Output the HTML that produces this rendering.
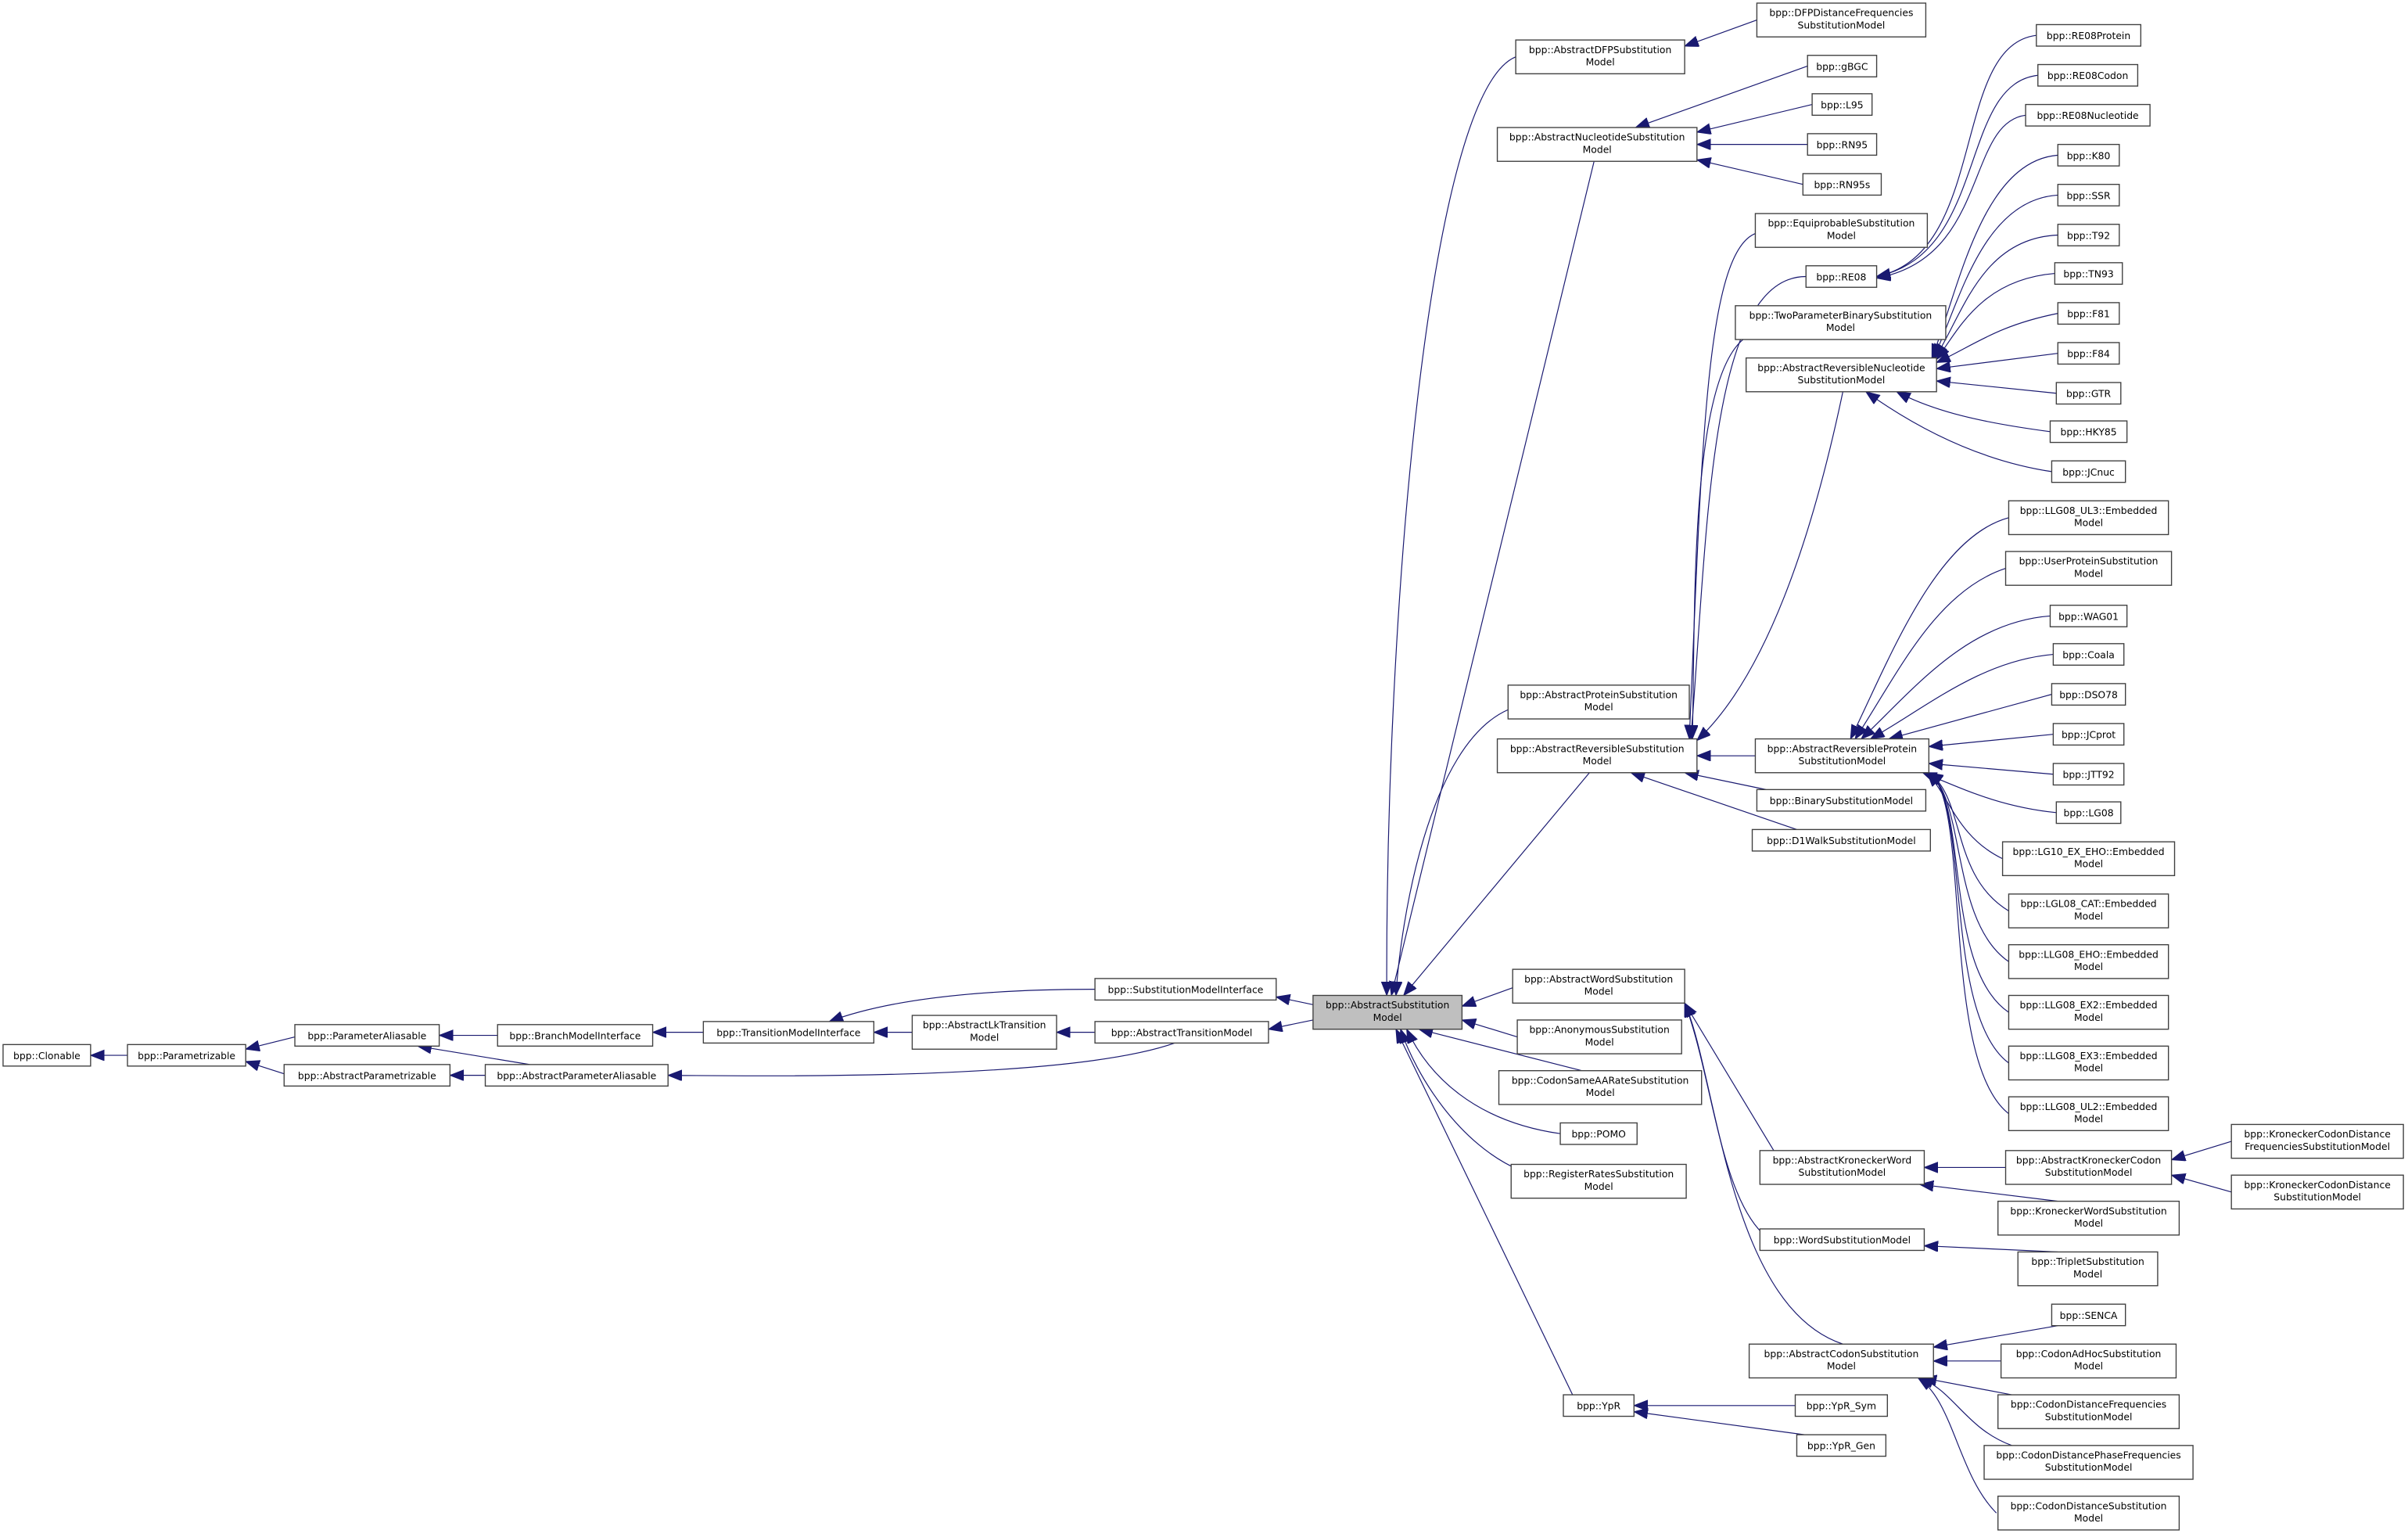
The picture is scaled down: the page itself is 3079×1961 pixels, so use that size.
<!DOCTYPE html>
<html><head><meta charset="utf-8"><style>
html,body{margin:0;padding:0;background:#fff;}
svg{display:block}
text{font-family:"DejaVu Sans","Liberation Sans",sans-serif;font-size:6.3px;fill:#000;text-anchor:middle}
rect{fill:#fff;stroke:#404040;stroke-width:0.7}
path{fill:none;stroke:#191970;stroke-width:0.6}
</style></head><body>
<svg width="3079" height="1961" viewBox="0 0 1568 998.6" xmlns="http://www.w3.org/2000/svg">
<defs><marker id="a" markerUnits="userSpaceOnUse" markerWidth="10" markerHeight="8" refX="9" refY="3.5" orient="auto"><path d="M0,0 L9,3.5 L0,7 Z" style="fill:#191970;stroke:#191970;stroke-width:0.5"/></marker></defs>
<g marker-end="url(#a)">
<path d="M83,687 L59,687"/>
<path d="M192,675 L160,683"/>
<path d="M185,699 L160,691"/>
<path d="M324,674 L286,674"/>
<path d="M345,693 L272,681"/>
<path d="M316,700 L293,700"/>
<path d="M458,672 L425,672"/>
<path d="M713,644 C640,644 580,650 540,665"/>
<path d="M594,672 L569,672"/>
<path d="M713,672 L688,672"/>
<path d="M765,679 C700,702 520,701 435,700"/>
<path d="M855,654 L831,649"/>
<path d="M855,664 L826,670"/>
<path d="M987,37 C930,60 902,400 903,648"/>
<path d="M1038,105 L906,648"/>
<path d="M982,462 C930,485 912,600 909,648"/>
<path d="M1035,503 L914,648"/>
<path d="M985,643 L952,655"/>
<path d="M988,675 L952,664"/>
<path d="M1030,697 L924,670"/>
<path d="M1016,738 C960,730 930,700 916,670"/>
<path d="M990,762 C950,745 922,700 912,670"/>
<path d="M1024,908 L909,670"/>
<path d="M1144,13 L1097,30"/>
<path d="M1177,43 L1065,83"/>
<path d="M1180,68 L1105,86"/>
<path d="M1177,94 L1105,94"/>
<path d="M1174,120 L1105,104"/>
<path d="M1143,152 C1110,165 1108,300 1100,481"/>
<path d="M1176,180 C1112,180 1112,350 1101,481"/>
<path d="M1135,221 C1100,250 1104,400 1102,481"/>
<path d="M1200,255 C1180,350 1150,440 1105,482"/>
<path d="M1143,492 L1105,492"/>
<path d="M1150,514 L1097,503"/>
<path d="M1170,540 L1062,503"/>
<path d="M1326,23 C1270,30 1295,165 1222,180"/>
<path d="M1327,49 C1275,55 1295,165 1222,180"/>
<path d="M1319,75 C1280,80 1295,168 1222,181"/>
<path d="M1340,101 C1290,105 1275,190 1258,233"/>
<path d="M1340,127 C1290,130 1275,200 1259,233"/>
<path d="M1340,153 C1290,155 1278,205 1260,233"/>
<path d="M1338,178 C1290,182 1275,215 1261,234"/>
<path d="M1340,204 C1300,212 1285,225 1261,236"/>
<path d="M1340,230 L1261,240"/>
<path d="M1339,256 L1261,248"/>
<path d="M1335,281 C1290,275 1260,268 1235,255"/>
<path d="M1336,307 C1290,300 1250,280 1215,255"/>
<path d="M1308,337 C1260,350 1230,430 1205,481"/>
<path d="M1306,370 C1260,385 1235,440 1208,481"/>
<path d="M1335,401 C1280,405 1245,450 1212,481"/>
<path d="M1337,426 C1290,430 1255,460 1218,481"/>
<path d="M1336,452 L1230,481"/>
<path d="M1337,478 L1256,486"/>
<path d="M1337,504 L1256,497"/>
<path d="M1339,529 C1300,525 1275,512 1252,503"/>
<path d="M1304,559 C1275,545 1270,520 1255,503"/>
<path d="M1308,593 C1270,570 1280,520 1256,503"/>
<path d="M1308,626 C1270,600 1280,520 1256,503"/>
<path d="M1308,659 C1265,630 1282,520 1256,503"/>
<path d="M1308,692 C1265,660 1283,520 1256,503"/>
<path d="M1308,725 C1263,690 1284,520 1256,503"/>
<path d="M1155,749 L1097,653"/>
<path d="M1150,805 C1120,780 1115,700 1097,653"/>
<path d="M1200,875 C1125,850 1118,700 1097,653"/>
<path d="M1306,760 L1253,760"/>
<path d="M1340,782 L1250,771"/>
<path d="M1453,743 L1414,755"/>
<path d="M1453,776 L1414,765"/>
<path d="M1340,815 L1253,811"/>
<path d="M1340,863 L1259,877"/>
<path d="M1303,886 L1259,886"/>
<path d="M1310,908 L1252,897"/>
<path d="M1310,941 C1280,930 1272,905 1250,897"/>
<path d="M1300,985 C1275,960 1272,912 1249,897"/>
<path d="M1169,915 L1064,915"/>
<path d="M1175,934 L1064,919"/>
</g>
<g>
<rect x="2" y="680" width="57" height="14"/><text x="30.5" y="689.5">bpp::Clonable</text>
<rect x="83" y="680" width="77" height="14"/><text x="121.5" y="689.5">bpp::Parametrizable</text>
<rect x="192" y="667" width="94" height="14"/><text x="239" y="676.5">bpp::ParameterAliasable</text>
<rect x="185" y="693" width="108" height="14"/><text x="239" y="702.5">bpp::AbstractParametrizable</text>
<rect x="324" y="667" width="101" height="14"/><text x="374.5" y="676.5">bpp::BranchModelInterface</text>
<rect x="316" y="693" width="119" height="14"/><text x="375.5" y="702.5">bpp::AbstractParameterAliasable</text>
<rect x="458" y="665" width="111" height="14"/><text x="513.5" y="674.5">bpp::TransitionModelInterface</text>
<rect x="713" y="637" width="118" height="14"/><text x="772" y="646.5">bpp::SubstitutionModelInterface</text>
<rect x="594" y="661" width="94" height="22"/><text x="641" y="669.5">bpp::AbstractLkTransition</text><text x="641" y="677.5">Model</text>
<rect x="713" y="665" width="113" height="14"/><text x="769.5" y="674.5">bpp::AbstractTransitionModel</text>
<rect x="855" y="648" width="97" height="22" style="fill:#bfbfbf"/><text x="903.5" y="656.5">bpp::AbstractSubstitution</text><text x="903.5" y="664.5">Model</text>

<rect x="987" y="26" width="110" height="22"/><text x="1042" y="34.5">bpp::AbstractDFPSubstitution</text><text x="1042" y="42.5">Model</text>
<rect x="975" y="83" width="130" height="22"/><text x="1040" y="91.5">bpp::AbstractNucleotideSubstitution</text><text x="1040" y="99.5">Model</text>
<rect x="982" y="446" width="118" height="22"/><text x="1041" y="454.5">bpp::AbstractProteinSubstitution</text><text x="1041" y="462.5">Model</text>
<rect x="975" y="481" width="130" height="22"/><text x="1040" y="489.5">bpp::AbstractReversibleSubstitution</text><text x="1040" y="497.5">Model</text>
<rect x="985" y="631" width="112" height="22"/><text x="1041" y="639.5">bpp::AbstractWordSubstitution</text><text x="1041" y="647.5">Model</text>
<rect x="988" y="664" width="107" height="22"/><text x="1041.5" y="672.5">bpp::AnonymousSubstitution</text><text x="1041.5" y="680.5">Model</text>
<rect x="976" y="697" width="132" height="22"/><text x="1042" y="705.5">bpp::CodonSameAARateSubstitution</text><text x="1042" y="713.5">Model</text>
<rect x="1016" y="731" width="50" height="14"/><text x="1041" y="740.5">bpp::POMO</text>
<rect x="984" y="758" width="114" height="22"/><text x="1041" y="766.5">bpp::RegisterRatesSubstitution</text><text x="1041" y="774.5">Model</text>
<rect x="1018" y="908" width="46" height="14"/><text x="1041" y="917.5">bpp::YpR</text>

<rect x="1144" y="2" width="110" height="22"/><text x="1199" y="10.5">bpp::DFPDistanceFrequencies</text><text x="1199" y="18.5">SubstitutionModel</text>
<rect x="1177" y="36" width="45" height="14"/><text x="1199.5" y="45.5">bpp::gBGC</text>
<rect x="1180" y="61" width="39" height="14"/><text x="1199.5" y="70.5">bpp::L95</text>
<rect x="1177" y="87" width="45" height="14"/><text x="1199.5" y="96.5">bpp::RN95</text>
<rect x="1174" y="113" width="51" height="14"/><text x="1199.5" y="122.5">bpp::RN95s</text>
<rect x="1143" y="139" width="112" height="22"/><text x="1199" y="147.5">bpp::EquiprobableSubstitution</text><text x="1199" y="155.5">Model</text>
<rect x="1176" y="173" width="46" height="14"/><text x="1199" y="182.5">bpp::RE08</text>
<rect x="1130" y="199" width="137" height="22"/><text x="1198.5" y="207.5">bpp::TwoParameterBinarySubstitution</text><text x="1198.5" y="215.5">Model</text>
<rect x="1137" y="233" width="124" height="22"/><text x="1199" y="241.5">bpp::AbstractReversibleNucleotide</text><text x="1199" y="249.5">SubstitutionModel</text>
<rect x="1143" y="481" width="113" height="22"/><text x="1199.5" y="489.5">bpp::AbstractReversibleProtein</text><text x="1199.5" y="497.5">SubstitutionModel</text>
<rect x="1144" y="514" width="110" height="14"/><text x="1199" y="523.5">bpp::BinarySubstitutionModel</text>
<rect x="1141" y="540" width="116" height="14"/><text x="1199" y="549.5">bpp::D1WalkSubstitutionModel</text>
<rect x="1146" y="749" width="107" height="22"/><text x="1199.5" y="757.5">bpp::AbstractKroneckerWord</text><text x="1199.5" y="765.5">SubstitutionModel</text>
<rect x="1146" y="800" width="107" height="14"/><text x="1199.5" y="809.5">bpp::WordSubstitutionModel</text>
<rect x="1139" y="875" width="120" height="22"/><text x="1199" y="883.5">bpp::AbstractCodonSubstitution</text><text x="1199" y="891.5">Model</text>
<rect x="1169" y="908" width="60" height="14"/><text x="1199" y="917.5">bpp::YpR_Sym</text>
<rect x="1170" y="934" width="58" height="14"/><text x="1199" y="943.5">bpp::YpR_Gen</text>

<rect x="1326" y="16" width="68" height="14"/><text x="1360" y="25.5">bpp::RE08Protein</text>
<rect x="1327" y="42" width="65" height="14"/><text x="1359.5" y="51.5">bpp::RE08Codon</text>
<rect x="1319" y="68" width="81" height="14"/><text x="1359.5" y="77.5">bpp::RE08Nucleotide</text>
<rect x="1340" y="94" width="40" height="14"/><text x="1360" y="103.5">bpp::K80</text>
<rect x="1340" y="120" width="40" height="14"/><text x="1360" y="129.5">bpp::SSR</text>
<rect x="1340" y="146" width="40" height="14"/><text x="1360" y="155.5">bpp::T92</text>
<rect x="1338" y="171" width="44" height="14"/><text x="1360" y="180.5">bpp::TN93</text>
<rect x="1340" y="197" width="40" height="14"/><text x="1360" y="206.5">bpp::F81</text>
<rect x="1340" y="223" width="40" height="14"/><text x="1360" y="232.5">bpp::F84</text>
<rect x="1339" y="249" width="42" height="14"/><text x="1360" y="258.5">bpp::GTR</text>
<rect x="1335" y="274" width="50" height="14"/><text x="1360" y="283.5">bpp::HKY85</text>
<rect x="1336" y="300" width="48" height="14"/><text x="1360" y="309.5">bpp::JCnuc</text>
<rect x="1308" y="326" width="104" height="22"/><text x="1360" y="334.5">bpp::LLG08_UL3::Embedded</text><text x="1360" y="342.5">Model</text>
<rect x="1306" y="359" width="108" height="22"/><text x="1360" y="367.5">bpp::UserProteinSubstitution</text><text x="1360" y="375.5">Model</text>
<rect x="1335" y="394" width="50" height="14"/><text x="1360" y="403.5">bpp::WAG01</text>
<rect x="1337" y="419" width="46" height="14"/><text x="1360" y="428.5">bpp::Coala</text>
<rect x="1336" y="445" width="48" height="14"/><text x="1360" y="454.5">bpp::DSO78</text>
<rect x="1337" y="471" width="46" height="14"/><text x="1360" y="480.5">bpp::JCprot</text>
<rect x="1337" y="497" width="46" height="14"/><text x="1360" y="506.5">bpp::JTT92</text>
<rect x="1339" y="522" width="42" height="14"/><text x="1360" y="531.5">bpp::LG08</text>
<rect x="1304" y="548" width="112" height="22"/><text x="1360" y="556.5">bpp::LG10_EX_EHO::Embedded</text><text x="1360" y="564.5">Model</text>
<rect x="1308" y="582" width="104" height="22"/><text x="1360" y="590.5">bpp::LGL08_CAT::Embedded</text><text x="1360" y="598.5">Model</text>
<rect x="1308" y="615" width="104" height="22"/><text x="1360" y="623.5">bpp::LLG08_EHO::Embedded</text><text x="1360" y="631.5">Model</text>
<rect x="1308" y="648" width="104" height="22"/><text x="1360" y="656.5">bpp::LLG08_EX2::Embedded</text><text x="1360" y="664.5">Model</text>
<rect x="1308" y="681" width="104" height="22"/><text x="1360" y="689.5">bpp::LLG08_EX3::Embedded</text><text x="1360" y="697.5">Model</text>
<rect x="1308" y="714" width="104" height="22"/><text x="1360" y="722.5">bpp::LLG08_UL2::Embedded</text><text x="1360" y="730.5">Model</text>
<rect x="1306" y="749" width="108" height="22"/><text x="1360" y="757.5">bpp::AbstractKroneckerCodon</text><text x="1360" y="765.5">SubstitutionModel</text>
<rect x="1301" y="782" width="118" height="22"/><text x="1360" y="790.5">bpp::KroneckerWordSubstitution</text><text x="1360" y="798.5">Model</text>
<rect x="1314" y="815" width="91" height="22"/><text x="1359.5" y="823.5">bpp::TripletSubstitution</text><text x="1359.5" y="831.5">Model</text>
<rect x="1336" y="849" width="48" height="14"/><text x="1360" y="858.5">bpp::SENCA</text>
<rect x="1303" y="875" width="114" height="22"/><text x="1360" y="883.5">bpp::CodonAdHocSubstitution</text><text x="1360" y="891.5">Model</text>
<rect x="1301" y="908" width="118" height="22"/><text x="1360" y="916.5">bpp::CodonDistanceFrequencies</text><text x="1360" y="924.5">SubstitutionModel</text>
<rect x="1292" y="941" width="136" height="22"/><text x="1360" y="949.5">bpp::CodonDistancePhaseFrequencies</text><text x="1360" y="957.5">SubstitutionModel</text>
<rect x="1301" y="974" width="118" height="22"/><text x="1360" y="982.5">bpp::CodonDistanceSubstitution</text><text x="1360" y="990.5">Model</text>

<rect x="1453" y="732" width="112" height="22"/><text x="1509" y="740.5">bpp::KroneckerCodonDistance</text><text x="1509" y="748.5">FrequenciesSubstitutionModel</text>
<rect x="1453" y="765" width="112" height="22"/><text x="1509" y="773.5">bpp::KroneckerCodonDistance</text><text x="1509" y="781.5">SubstitutionModel</text>
</g>
</svg>
</body></html>
